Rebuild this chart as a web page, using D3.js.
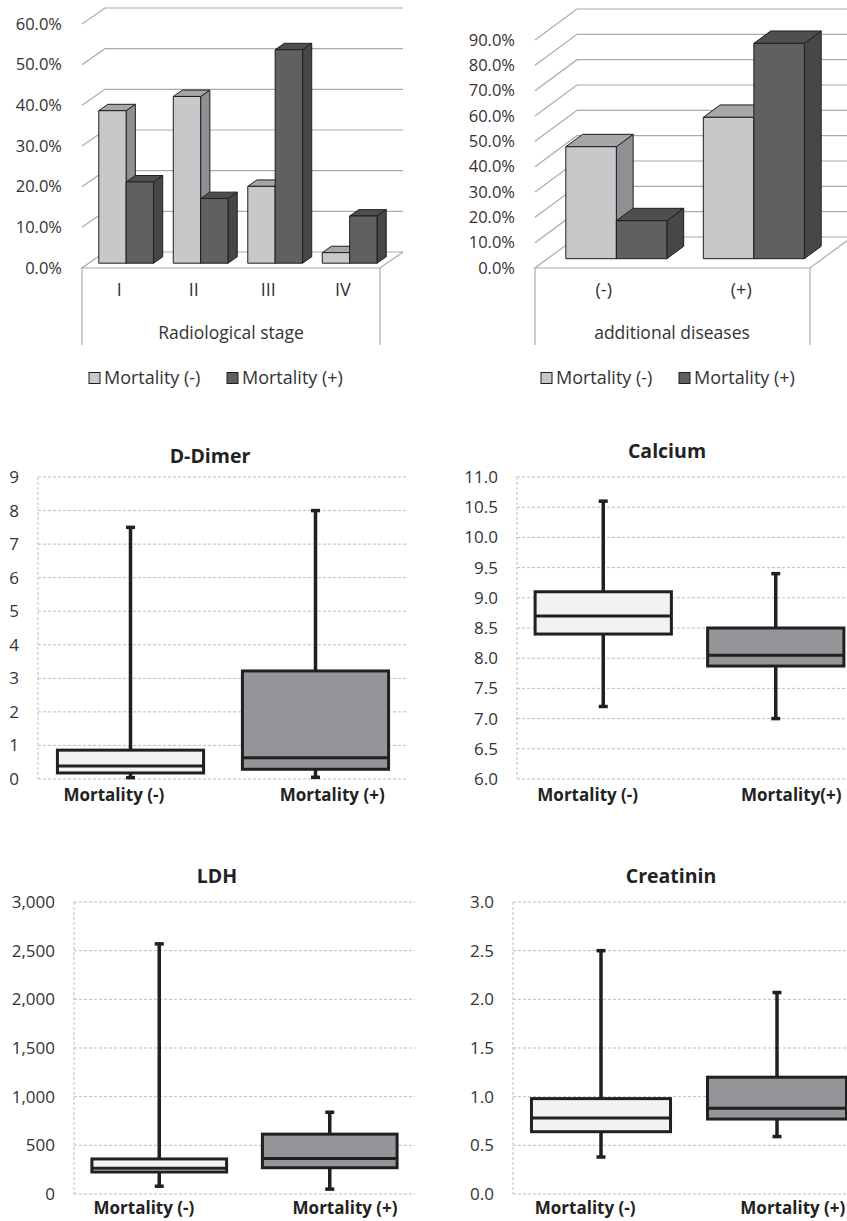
<!DOCTYPE html>
<html>
<head>
<meta charset="utf-8">
<script src="https://cdn.jsdelivr.net/npm/d3@7"></script>
<style>
  body { margin: 0; background: #fff; }
  svg { display: block; font-family: "Open Sans", sans-serif; }
</style>
</head>
<body>
<svg id="chart" width="847" height="1221"></svg>
<script>
// ---- data ----
var stageCats = ["I", "II", "III", "IV"];
var stageMortNeg = [37.5, 41.0, 18.9, 2.6];
var stageMortPos = [20.0, 15.9, 52.5, 11.6];
var stageTicks = [0, 10, 20, 30, 40, 50, 60];

var diseaseCats = ["(-)", "(+)"];
var diseaseMortNeg = [44.2, 55.8];
var diseaseMortPos = [15.0, 85.0];
var diseaseTicks = [0, 10, 20, 30, 40, 50, 60, 70, 80, 90];

var seriesNames = ["Mortality (-)", "Mortality (+)"];

// box stats: [min, q1, median, q3, max]
var dDimerNeg = [0.04, 0.18, 0.39, 0.86, 7.5];
var dDimerPos = [0.05, 0.29, 0.63, 3.22, 8.0];
var dDimerTicks = [0, 1, 2, 3, 4, 5, 6, 7, 8, 9];

var calciumNeg = [7.2, 8.4, 8.7, 9.1, 10.6];
var calciumPos = [7.0, 7.87, 8.05, 8.5, 9.4];
var calciumTicks = [6, 6.5, 7, 7.5, 8, 8.5, 9, 9.5, 10, 10.5, 11];

var ldhNeg = [80, 226, 265, 360, 2570];
var ldhPos = [50, 270, 365, 615, 840];
var ldhTicks = [0, 500, 1000, 1500, 2000, 2500, 3000];

var creatNeg = [0.38, 0.64, 0.78, 0.98, 2.5];
var creatPos = [0.59, 0.77, 0.88, 1.2, 2.07];
var creatTicks = [0, 0.5, 1, 1.5, 2, 2.5, 3];

var svg = d3.select("#chart");

var lightFaces = { front: "#c7c8ca", top: "#a6a7a9", side: "#8f9093" };
var darkFaces = { front: "#5f6062", top: "#4d4e50", side: "#464749" };

// 3D column chart, Excel style
function bar3d(cfg) {
    var g = svg.append("g");
    var y = d3.scaleLinear().domain([0, cfg.max]).range([cfg.y0, cfg.y1]);
    var x = d3.scaleBand().domain(cfg.cats).range([cfg.left, cfg.right]);
    function proj(px, v, z) { return [px + z * cfg.dx, y(v) + z * cfg.dy]; }
    var line = d3.line();

    // walls + floor
    cfg.ticks.forEach(function(t) {
        var pts = [proj(cfg.left, t, 0), proj(cfg.left, t, 1), proj(cfg.right, t, 1)];
        if (t === 0) pts = [proj(cfg.right, 0, 1), proj(cfg.left, 0, 1), proj(cfg.left, 0, 0), proj(cfg.right, 0, 0), proj(cfg.right, 0, 1)];
        g.append("path").attr("d", line(pts))
            .attr("fill", "none").attr("stroke", "#aaaaaa").attr("stroke-width", 1.2);
    });
    [cfg.left, cfg.right].forEach(function(px) {
        g.append("line").attr("x1", px).attr("x2", px).attr("y1", y(0)).attr("y2", cfg.bottom)
            .attr("stroke", "#aaaaaa").attr("stroke-width", 1.2);
    });

    // bars, drawn left to right
    var step = x.step(), gw = step * 0.735, bw = gw / 2, zs = 0.3, ze = 0.7;
    cfg.cats.forEach(function(c, i) {
        [cfg.neg[i], cfg.pos[i]].forEach(function(v, s) {
            var faces = s === 0 ? lightFaces : darkFaces;
            var x0 = x(c) + (step - gw) / 2 + s * bw, x1 = x0 + bw;
            var front = [proj(x0, 0, zs), proj(x0, v, zs), proj(x1, v, zs), proj(x1, 0, zs)];
            var side = [proj(x1, 0, zs), proj(x1, v, zs), proj(x1, v, ze), proj(x1, 0, ze)];
            var top = [proj(x0, v, zs), proj(x1, v, zs), proj(x1, v, ze), proj(x0, v, ze)];
            [[side, faces.side], [top, faces.top], [front, faces.front]].forEach(function(f) {
                g.append("path").attr("d", line(f[0]) + "Z").attr("fill", f[1])
                    .attr("stroke", "#1e1e1e").attr("stroke-width", 1).attr("stroke-linejoin", "round");
            });
        });
    });

    // value axis labels
    var ya = g.append("g").attr("transform", "translate(" + cfg.labelX + ",0)")
        .call(d3.axisLeft(y).tickValues(cfg.ticks).tickSize(0).tickPadding(0)
            .tickFormat(function(d) { return d3.format(".1f")(d) + "%"; }));
    ya.select(".domain").remove();
    ya.selectAll("text").attr("font-family", "Open Sans").attr("font-size", 16.5).attr("fill", "#333");

    // category labels
    var xa = g.append("g").attr("transform", "translate(0," + (cfg.catY - 10) + ")")
        .call(d3.axisBottom(x).tickSize(0).tickPadding(0));
    xa.select(".domain").remove();
    xa.selectAll("text").attr("font-family", "Open Sans").attr("font-size", 18).attr("fill", "#333");

    g.append("text").attr("x", cfg.titleX).attr("y", cfg.titleY).attr("dy", "0.35em")
        .attr("text-anchor", "middle").attr("font-size", 17.5).attr("fill", "#333").text(cfg.title);

    // legend
    seriesNames.forEach(function(n, s) {
        var lx = cfg.legendX + s * 138;
        g.append("rect").attr("x", lx).attr("y", cfg.legendY - 5.5).attr("width", 11).attr("height", 11)
            .attr("fill", s === 0 ? lightFaces.front : darkFaces.front).attr("stroke", "#1e1e1e").attr("stroke-width", 1);
        g.append("text").attr("x", lx + 15).attr("y", cfg.legendY).attr("dy", "0.35em")
            .attr("font-size", 18).attr("fill", "#333").text(n);
    });
}

bar3d({ cats: stageCats, neg: stageMortNeg, pos: stageMortPos, ticks: stageTicks, max: 60,
    left: 82, right: 380, y0: 268, y1: 24, dx: 23, dy: -16, bottom: 345, labelX: 62,
    catY: 293, title: "Radiological stage", titleX: 231, titleY: 333, legendX: 89, legendY: 378 });

bar3d({ cats: diseaseCats, neg: diseaseMortNeg, pos: diseaseMortPos, ticks: diseaseTicks, max: 90,
    left: 535, right: 810, y0: 268, y1: 40, dx: 42, dy: -31, bottom: 345, labelX: 515,
    catY: 293, title: "additional diseases", titleX: 672, titleY: 333, legendX: 541, legendY: 378 });

// box plots
function boxPlot(cfg) {
    var g = svg.append("g");
    var groups = ["neg", "pos"];
    var y = d3.scaleLinear().domain([cfg.ticks[0], cfg.ticks[cfg.ticks.length - 1]]).range([cfg.bottom, cfg.top]);
    var x = d3.scaleBand().domain(groups).range([cfg.left, cfg.right]).paddingInner(0.21).paddingOuter(0.105);

    cfg.ticks.forEach(function(t) {
        g.append("line").attr("x1", cfg.left).attr("x2", cfg.right).attr("y1", y(t)).attr("y2", y(t))
            .attr("stroke", "#bdbdbd").attr("stroke-width", 1).attr("stroke-dasharray", "3,2");
    });
    g.append("line").attr("x1", cfg.left).attr("x2", cfg.left).attr("y1", cfg.top).attr("y2", cfg.bottom)
        .attr("stroke", "#bdbdbd").attr("stroke-width", 1).attr("stroke-dasharray", "3,2");

    var ya = g.append("g").attr("transform", "translate(" + cfg.left + ",0)")
        .call(d3.axisLeft(y).tickValues(cfg.ticks).tickSize(0).tickPadding(19).tickFormat(d3.format(cfg.fmt)));
    ya.select(".domain").remove();
    ya.selectAll("text").attr("font-family", "Open Sans").attr("font-size", 17).attr("fill", "#333");

    [cfg.neg, cfg.pos].forEach(function(st, i) {
        var bx = x(groups[i]), bw = x.bandwidth(), cx = bx + bw / 2;
        var ink = "#231f20";
        g.append("line").attr("x1", cx).attr("x2", cx).attr("y1", y(st[4])).attr("y2", y(st[3]))
            .attr("stroke", ink).attr("stroke-width", 3.5);
        g.append("line").attr("x1", cx).attr("x2", cx).attr("y1", y(st[1])).attr("y2", y(st[0]))
            .attr("stroke", ink).attr("stroke-width", 3.5);
        [st[0], st[4]].forEach(function(v) {
            g.append("line").attr("x1", cx - 4.5).attr("x2", cx + 4.5).attr("y1", y(v)).attr("y2", y(v))
                .attr("stroke", ink).attr("stroke-width", 3.5);
        });
        g.append("rect").attr("x", bx).attr("y", y(st[3])).attr("width", bw).attr("height", y(st[1]) - y(st[3]))
            .attr("fill", i === 0 ? "#f1f2f3" : "#939598").attr("stroke", ink).attr("stroke-width", 3);
        g.append("line").attr("x1", bx).attr("x2", bx + bw).attr("y1", y(st[2])).attr("y2", y(st[2]))
            .attr("stroke", ink).attr("stroke-width", 3);
        g.append("text").attr("x", cx + (i === 0 ? -1 : 1) * 0.09 * x.step()).attr("y", cfg.labelY).attr("dy", "0.35em")
            .attr("text-anchor", "middle").attr("font-size", 17).attr("font-weight", "bold")
            .attr("fill", "#222").text(cfg.names[i]);
    });

    g.append("text").attr("x", cfg.titleX).attr("y", cfg.titleY).attr("dy", "0.35em")
        .attr("text-anchor", "middle").attr("font-size", 19.5).attr("font-weight", "bold")
        .attr("fill", "#222").text(cfg.title);
}

boxPlot({ title: "D-Dimer", neg: dDimerNeg, pos: dDimerPos, ticks: dDimerTicks, fmt: "d",
    left: 38, right: 408, top: 477, bottom: 779, titleX: 210, titleY: 456, labelY: 795,
    names: ["Mortality (-)", "Mortality (+)"] });
boxPlot({ title: "Calcium", neg: calciumNeg, pos: calciumPos, ticks: calciumTicks, fmt: ".1f",
    left: 517, right: 862, top: 477, bottom: 779, titleX: 667, titleY: 451, labelY: 795,
    names: ["Mortality (-)", "Mortality(+)"] });
boxPlot({ title: "LDH", neg: ldhNeg, pos: ldhPos, ticks: ldhTicks, fmt: ",",
    left: 74, right: 415, top: 902, bottom: 1194, titleX: 217, titleY: 876, labelY: 1208,
    names: ["Mortality (-)", "Mortality (+)"] });
boxPlot({ title: "Creatinin", neg: creatNeg, pos: creatPos, ticks: creatTicks, fmt: ".1f",
    left: 513, right: 865, top: 902, bottom: 1194, titleX: 671, titleY: 876, labelY: 1208,
    names: ["Mortality (-)", "Mortality (+)"] });
</script>
</body>
</html>
